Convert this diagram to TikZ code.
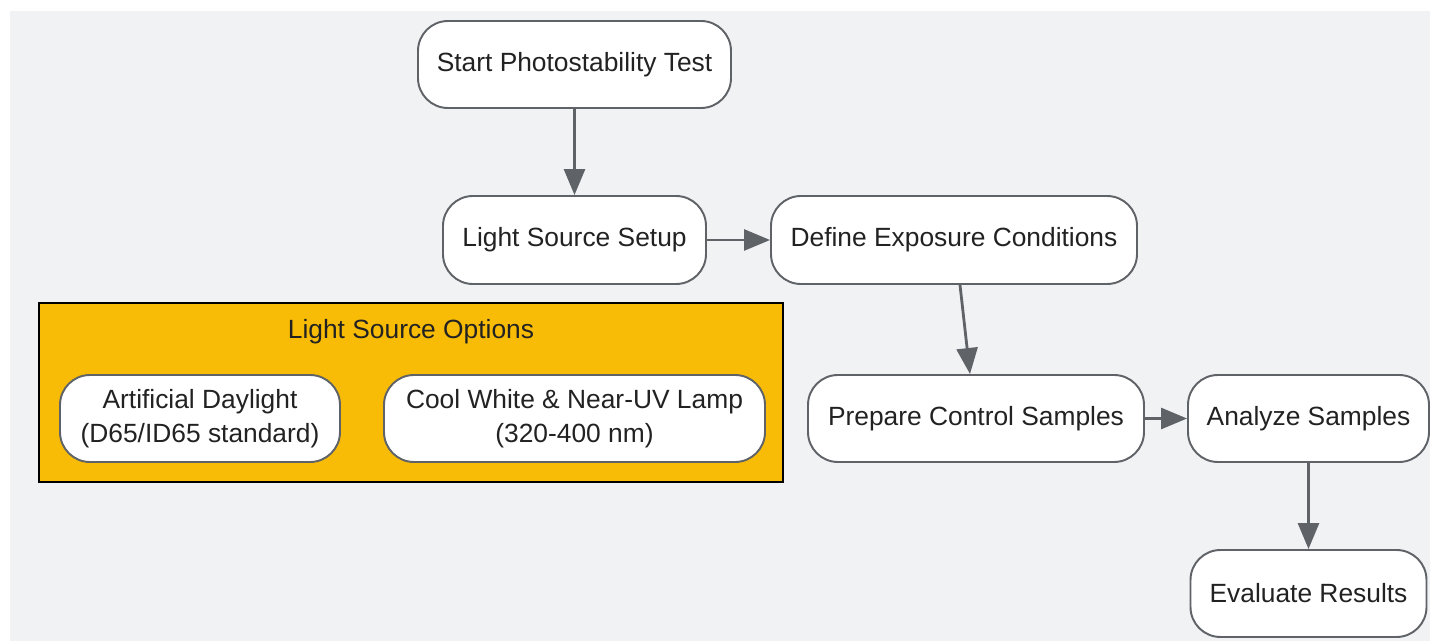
\documentclass[tikz,border=0pt]{standalone}
\usepackage{fontspec}
\setmainfont{Liberation Sans}
\usepackage{tikz}
\usetikzlibrary{arrows.meta}
\usetikzlibrary{calc}
\usetikzlibrary{positioning}
\definecolor{bggray}{HTML}{F1F2F4}
\definecolor{edgegray}{HTML}{5F6368}
\definecolor{textgray}{HTML}{222222}
\definecolor{amber}{HTML}{F9BC06}

\begin{document}
\begin{tikzpicture}
		[line width=1.1pt,
		> = {Triangle[length=0.52cm,width=0.42cm]},
		every node/.style={font=\fontsize{15}{19}\selectfont, text=textgray},
		stepbox/.style = {draw=edgegray,fill=white,rounded corners=0.6cm,align=center,minimum height=1.74cm},
		flow/.style = {->,draw=edgegray,fill=edgegray,line width=1.6pt}
		]
		\useasboundingbox (0,0) rectangle (28.6,-12.82);
		\fill[bggray] (0.2,-0.22) rectangle (28.6,-12.82);

		% group of light sources
		\draw[black,fill=amber] (0.78,-6.06) rectangle (15.66,-9.64);
		\node (opttitle) at (8.22,-6.64) {Light Source Options};
		\node[stepbox, minimum width=5.6cm] (daylight) at (4.0,-8.37) {Artificial Daylight\\(D65/ID65 standard)};
		\node[stepbox, minimum width=7.62cm] (coolwhite) at (11.49,-8.37) {Cool White \& Near-UV Lamp\\(320-400 nm)};

		% main flow
		\node[stepbox, minimum width=6.26cm] (start) at (11.49,-1.29) {Start Photostability Test};
		\node[stepbox, minimum width=5.26cm, minimum height=1.76cm] (setup) at (11.49,-4.80) {Light Source Setup};
		\node[stepbox, minimum width=7.32cm, minimum height=1.76cm] (define) at (19.08,-4.80) {Define Exposure Conditions};
		\node[stepbox, minimum width=6.72cm] (prepare) at (19.52,-8.37) {Prepare Control Samples};
		\node[stepbox, minimum width=4.82cm] (analyze) at (26.17,-8.37) {Analyze Samples};
		\node[stepbox, minimum width=4.72cm] (evaluate) at (26.17,-11.87) {Evaluate Results};

		\draw[flow] (start) -- (setup);
		\draw[flow] (setup) -- (define);
		\draw[flow] ([xshift=0.12cm]define.south) -- ([xshift=-0.12cm]prepare.north);
		\draw[flow] (prepare) -- (analyze);
		\draw[flow] (analyze) -- (evaluate);
	\end{tikzpicture}
\end{document}
